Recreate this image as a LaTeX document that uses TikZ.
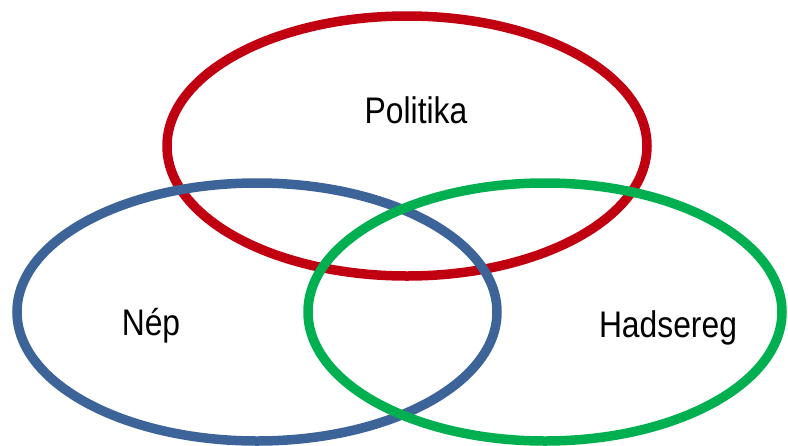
\documentclass[tikz,border=0pt]{standalone}
\usepackage{fontspec}
\setmainfont[FakeStretch=0.86]{Liberation Sans}
\definecolor{cred}{HTML}{C00010}
\definecolor{cblue}{HTML}{3D6498}
\definecolor{cgreen}{HTML}{00B050}
\begin{document}
\begin{tikzpicture}[x=1pt,y=-1pt,
  ring/.style={line width=9.5pt},
  lbl/.style={anchor=base,inner sep=0pt,font=\fontsize{37}{37}\selectfont}]
\useasboundingbox (0,0) rectangle (788,445);
\draw[ring,cred] (407,146) ellipse [x radius=240,y radius=130];
\draw[ring,cblue] (257,312) ellipse [x radius=240,y radius=129];
\draw[ring,cgreen] (545,312) ellipse [x radius=237,y radius=129];
\node[lbl] (pol) at (416,123) {Politika};
\node[lbl] (nep) at (151,335) {Nép};
\node[lbl] (had) at (668,337) {Hadsereg};
\end{tikzpicture}
\end{document}
